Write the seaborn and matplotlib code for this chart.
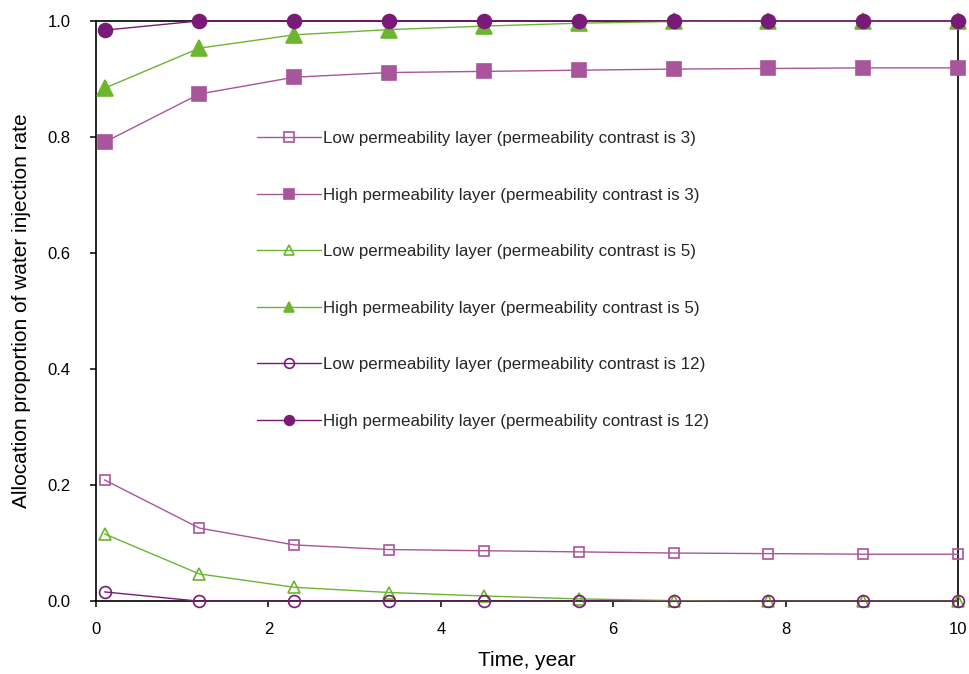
"""
Allocation proportion of water injection rate vs. time
for two-layer models with different permeability contrast.
"""

import matplotlib
matplotlib.use("Agg")
import matplotlib.pyplot as plt
import seaborn as sns

# ----------------------------------------------------------------------
# Data
# ----------------------------------------------------------------------
time_years = [0.1, 1.2, 2.3, 3.4, 4.5, 5.6, 6.7, 7.8, 8.9, 10.0]

low_k3 = [0.209, 0.126, 0.097, 0.089, 0.087, 0.085, 0.083, 0.082, 0.081, 0.081]
high_k3 = [0.791, 0.874, 0.903, 0.911, 0.913, 0.915, 0.917, 0.918, 0.919, 0.919]
low_k5 = [0.116, 0.047, 0.024, 0.015, 0.009, 0.004, 0.001, 0.0, 0.0, 0.0]
high_k5 = [0.884, 0.953, 0.976, 0.985, 0.991, 0.996, 0.999, 1.0, 1.0, 1.0]
low_k12 = [0.016, 0.0, 0.0, 0.0, 0.0, 0.0, 0.0, 0.0, 0.0, 0.0]
high_k12 = [0.984, 1.0, 1.0, 1.0, 1.0, 1.0, 1.0, 1.0, 1.0, 1.0]

labels = [
    "Low permeability layer (permeability contrast is 3)",
    "High permeability layer (permeability contrast is 3)",
    "Low permeability layer (permeability contrast is 5)",
    "High permeability layer (permeability contrast is 5)",
    "Low permeability layer (permeability contrast is 12)",
    "High permeability layer (permeability contrast is 12)",
]

PINK = "#A8559C"
GREEN = "#6CB52F"
PURPLE = "#7A1A78"

# (values, colour, marker, filled, marker size)
series = [
    (low_k3, PINK, "s", False, 7.5),
    (high_k3, PINK, "s", True, 10),
    (low_k5, GREEN, "^", False, 9),
    (high_k5, GREEN, "^", True, 11),
    (low_k12, PURPLE, "o", False, 8.5),
    (high_k12, PURPLE, "o", True, 10),
]

# ----------------------------------------------------------------------
# Plot
# ----------------------------------------------------------------------
sns.set_theme(style="ticks")
plt.rcParams["font.family"] = ["Liberation Sans", "DejaVu Sans"]

fig = plt.figure(figsize=(9.69, 6.74), dpi=100)
ax = fig.add_axes([0.099, 0.108, 0.8897, 0.861])

for (vals, color, marker, filled, ms), label in zip(series, labels):
    sns.lineplot(
        x=time_years,
        y=vals,
        ax=ax,
        color=color,
        linewidth=1.0,
        marker=marker,
        markersize=ms,
        markerfacecolor=color if filled else "none",
        markeredgecolor=color,
        markeredgewidth=1.2,
        label=label,
        clip_on=False,
        zorder=3,
    )

ax.set_xlim(0, 10)
ax.set_ylim(0, 1.0)
ax.set_xticks([0, 2, 4, 6, 8, 10])
ax.set_yticks([0.0, 0.2, 0.4, 0.6, 0.8, 1.0])
ax.set_yticklabels(["0.0", "0.2", "0.4", "0.6", "0.8", "1.0"])
ax.tick_params(direction="out", length=4.3, width=1.1, labelsize=12, colors="black")
ax.tick_params(axis="x", pad=11)
ax.tick_params(axis="y", pad=14)

for side in ["left", "right", "top", "bottom"]:
    ax.spines[side].set_visible(True)
    ax.spines[side].set_color("black")
    ax.spines[side].set_linewidth(1.2)

ax.set_xlabel("Time, year", fontsize=15, color="black", labelpad=10)
ax.set_ylabel("Allocation proportion of water injection rate", fontsize=15,
              color="black", labelpad=12)

leg = ax.legend(
    loc="upper left",
    bbox_to_anchor=(0.187, 0.81),
    frameon=False,
    fontsize=12.2,
    handlelength=3.75,
    handletextpad=0.15,
    labelspacing=2.45,
    borderpad=0,
    borderaxespad=0,
)
for h in leg.legend_handles:
    h.set_markersize(7)

plt.savefig("out.png", dpi=100)
